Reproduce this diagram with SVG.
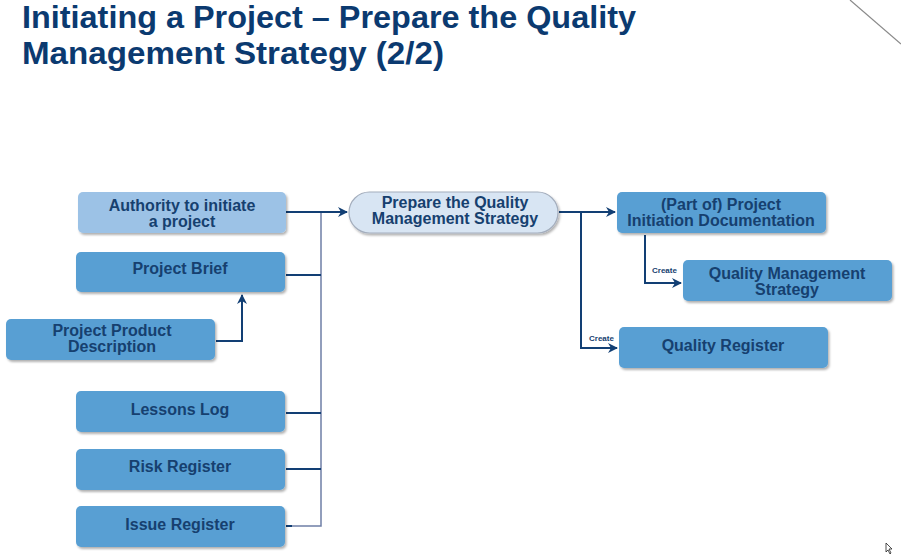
<svg xmlns="http://www.w3.org/2000/svg" width="901" height="554" viewBox="0 0 901 554">
<defs>
<filter id="sh" x="-5%" y="-10%" width="115%" height="135%">
<feDropShadow dx="1.5" dy="2" stdDeviation="1.2" flood-color="#000" flood-opacity="0.3"/>
</filter>
<marker id="ar" markerWidth="10" markerHeight="10" refX="9" refY="5" orient="auto" markerUnits="userSpaceOnUse">
<path d="M0,0 L10,5 L0,10 L3,5 Z" fill="#123f74"/>
</marker>
</defs>
<style>
.box{fill:#589fd3;filter:url(#sh)}
.light{fill:#9cc2e6;filter:url(#sh)}
.pill{fill:#d8e5f3;stroke:#a4aebd;stroke-width:1.2;filter:url(#sh)}
.t{font-family:"Liberation Sans",Arial,sans-serif;font-weight:bold;font-size:16px;fill:#16406f;text-anchor:middle}
.title{font-family:"Liberation Sans",Arial,sans-serif;font-weight:bold;font-size:31px;fill:#0b3a70}
.c{fill:none;stroke:#123f74;stroke-width:2}
.bus{fill:none;stroke:#6f7fa6;stroke-width:1.5}
.lbl{font-family:"Liberation Sans",Arial,sans-serif;font-weight:bold;font-size:8px;fill:#16406f}
</style>
<rect width="901" height="554" fill="#fff"/>
<g id="title">
<text class="title" x="22" y="28" textLength="614" lengthAdjust="spacingAndGlyphs">Initiating a Project – Prepare the Quality</text>
<text class="title" x="22" y="64" textLength="422" lengthAdjust="spacingAndGlyphs">Management Strategy (2/2)</text>
</g>
<line x1="850" y1="0" x2="901" y2="44" stroke="#8a8a8a" stroke-width="1.2"/>
<g id="connectors">
<path class="bus" d="M321,212 V526 H286"/>
<path class="c" d="M286,212 H347" marker-end="url(#ar)"/>
<path class="c" d="M286,275 H321"/>
<path class="c" d="M286,413 H321"/>
<path class="c" d="M286,469 H321"/>
<path class="c" d="M286,526 H292"/>
<path class="c" d="M216,341 H242 V295" marker-end="url(#ar)"/>
<path class="c" d="M559,212 H615" marker-end="url(#ar)"/>
<path class="c" d="M581,212 V348 H617" marker-end="url(#ar)"/>
<path class="c" d="M645,235 V283 H681" marker-end="url(#ar)"/>
<text class="lbl" x="652" y="273">Create</text>
<text class="lbl" x="589" y="341">Create</text>
</g>
<g id="n-authority">
<rect class="light" x="78" y="192" width="208" height="41" rx="5"/>
<text class="t" x="182" y="211">Authority to initiate</text>
<text class="t" x="182" y="227">a project</text>
</g>
<g id="n-brief">
<rect class="box" x="76" y="252" width="209" height="40" rx="5"/>
<text class="t" x="180" y="274">Project Brief</text>
</g>
<g id="n-ppd">
<rect class="box" x="6" y="319" width="209" height="41" rx="5"/>
<text class="t" x="112" y="336">Project Product</text>
<text class="t" x="112" y="352">Description</text>
</g>
<g id="n-lessons">
<rect class="box" x="76" y="391" width="209" height="41" rx="5"/>
<text class="t" x="180" y="415">Lessons Log</text>
</g>
<g id="n-risk">
<rect class="box" x="76" y="449" width="209" height="41" rx="5"/>
<text class="t" x="180" y="472">Risk Register</text>
</g>
<g id="n-issue">
<rect class="box" x="76" y="506" width="209" height="41" rx="5"/>
<text class="t" x="180" y="530">Issue Register</text>
</g>
<g id="n-prepare">
<rect class="pill" x="349" y="192" width="209" height="41" rx="20.5"/>
<text class="t" x="455" y="208">Prepare the Quality</text>
<text class="t" x="455" y="224">Management Strategy</text>
</g>
<g id="n-pid">
<rect class="box" x="617" y="192" width="209" height="41" rx="5"/>
<text class="t" x="721" y="210">(Part of) Project</text>
<text class="t" x="721" y="226">Initiation Documentation</text>
</g>
<g id="n-qms">
<rect class="box" x="683" y="260" width="209" height="41" rx="5"/>
<text class="t" x="787" y="279">Quality Management</text>
<text class="t" x="787" y="295">Strategy</text>
</g>
<g id="n-qr">
<rect class="box" x="619" y="327" width="209" height="41" rx="5"/>
<text class="t" x="723" y="351">Quality Register</text>
</g>
<path d="M886,543 V552 L888,550 L890,554 L891,553 L889,549 L892,549 Z" fill="#fff" stroke="#222" stroke-width="0.8"/>
</svg>
